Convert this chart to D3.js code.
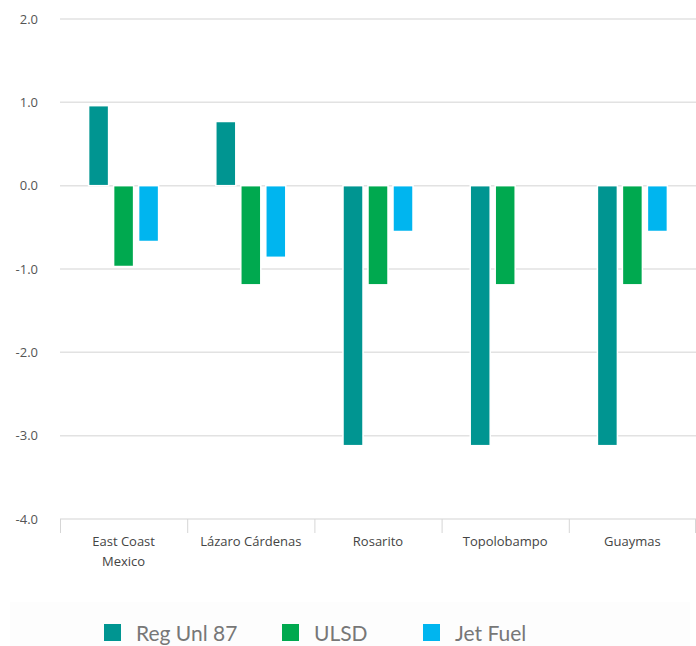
<!DOCTYPE html>
<html>
<head>
<meta charset="utf-8">
<script src="https://cdn.jsdelivr.net/npm/d3@7"></script>
<style>
  body { margin: 0; background: #fff; }
  svg { display: block; }
</style>
</head>
<body>
<div id="chart"></div>
<script>
const categories = ["East Coast\nMexico", "Lázaro Cárdenas", "Rosarito", "Topolobampo", "Guaymas"];
const seriesNames = ["Reg Unl 87", "ULSD", "Jet Fuel"];
const regUnl87 = [0.96, 0.77, -3.12, -3.12, -3.12];
const ulsd = [-0.97, -1.19, -1.19, -1.19, -1.19];
const jetFuel = [-0.67, -0.86, -0.55, null, -0.55];
const yTicks = [2, 1, 0, -1, -2, -3, -4];
const colors = ["#009591", "#00a94f", "#00b5ef"];

const width = 696, height = 646;
const margin = { top: 19, right: 0, bottom: 127, left: 60 };

const svg = d3.select("#chart").append("svg")
    .attr("width", width)
    .attr("height", height);

const seriesValues = [regUnl87, ulsd, jetFuel];
const rows = categories.map((c, i) => ({
    cat: c,
    vals: seriesNames.map((s, j) => ({ key: s, value: seriesValues[j][i] }))
}));

const y = d3.scaleLinear()
    .domain([-4, 2])
    .range([height - margin.bottom, margin.top]);

const x0 = d3.scaleBand()
    .domain(categories)
    .range([margin.left, width - margin.right])
    .padding(0);

const x1 = d3.scaleBand()
    .domain(seriesNames)
    .range([0, 70])
    .paddingInner(0.2)
    .paddingOuter(0);

const color = d3.scaleOrdinal().domain(seriesNames).range(colors);

// grid lines
svg.append("g")
    .selectAll("line")
    .data(yTicks)
    .join("line")
    .attr("x1", margin.left)
    .attr("x2", width - margin.right)
    .attr("y1", d => y(d))
    .attr("y2", d => y(d))
    .attr("stroke", "#e2e2e2")
    .attr("stroke-width", 1.5);

// y labels
svg.append("g")
    .selectAll("text")
    .data(yTicks)
    .join("text")
    .attr("x", 38)
    .attr("y", d => y(d))
    .attr("dy", "0.35em")
    .attr("text-anchor", "end")
    .style("font-family", "'Open Sans', sans-serif")
    .style("font-size", "13px")
    .style("fill", "#555")
    .text(d => d.toFixed(1));

// x category ticks
const xTickPos = categories.map(c => x0(c)).concat([width - margin.right - 1]);
svg.append("g")
    .selectAll("line")
    .data(xTickPos)
    .join("line")
    .attr("x1", d => d + 0.5)
    .attr("x2", d => d + 0.5)
    .attr("y1", y(-4))
    .attr("y2", y(-4) + 14)
    .attr("stroke", "#d6d6d6")
    .attr("stroke-width", 1);

// x labels
svg.append("g")
    .selectAll("text")
    .data(categories)
    .join("text")
    .attr("x", d => x0(d) + x0.bandwidth() / 2)
    .attr("y", y(-4) + 27)
    .attr("text-anchor", "middle")
    .style("font-family", "'Open Sans', sans-serif")
    .style("font-size", "13px")
    .style("fill", "#444")
    .each(function(d) {
        const lines = d.split("\n");
        d3.select(this).selectAll("tspan")
            .data(lines)
            .join("tspan")
            .attr("x", x0(d) + x0.bandwidth() / 2)
            .attr("dy", (l, i) => i === 0 ? 0 : "1.55em")
            .text(l => l);
    });

// bars
const groupOffset = (x0.bandwidth() - 70) / 2;
svg.append("g")
    .selectAll("g")
    .data(rows)
    .join("g")
    .attr("transform", d => `translate(${x0(d.cat) + groupOffset},0)`)
    .selectAll("rect")
    .data(d => d.vals.filter(v => v.value !== null))
    .join("rect")
    .attr("x", d => x1(d.key))
    .attr("width", x1.bandwidth())
    .attr("y", d => y(Math.max(0, d.value)))
    .attr("height", d => Math.abs(y(d.value) - y(0)))
    .attr("fill", d => color(d.key))
    .attr("stroke", "#fff")
    .attr("stroke-width", 1.5);

// legend
svg.append("rect")
    .attr("x", 10)
    .attr("y", 602)
    .attr("width", 680)
    .attr("height", 44)
    .attr("fill", "#fdfdfd");

const legendX = [104, 282, 423];
const legend = svg.append("g")
    .selectAll("g")
    .data(seriesNames)
    .join("g")
    .attr("transform", (d, i) => `translate(${legendX[i]},624)`);

legend.append("rect")
    .attr("width", 17)
    .attr("height", 17)
    .attr("fill", d => color(d));

legend.append("text")
    .attr("x", 32)
    .attr("y", 9)
    .attr("dy", "0.36em")
    .style("font-family", "Lato, sans-serif")
    .style("font-size", "21px")
    .style("fill", "#777")
    .text(d => d);
</script>
</body>
</html>
